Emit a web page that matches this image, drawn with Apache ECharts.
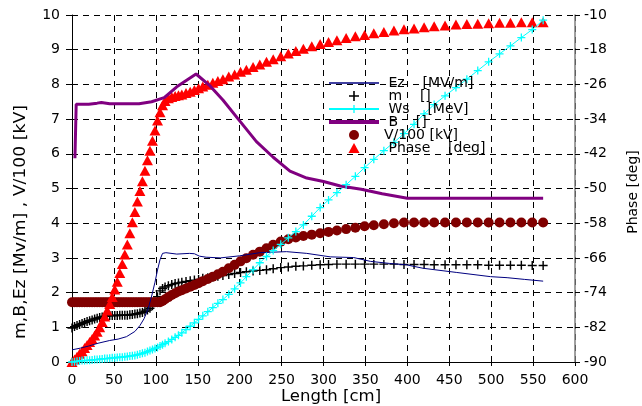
<!DOCTYPE html>
<html>
<head>
<meta charset="utf-8">
<script src="https://cdn.jsdelivr.net/npm/echarts@6/dist/echarts.min.js"></script>
<style>
html,body{margin:0;padding:0;background:#fff;}
#chart{width:642px;height:406px;}
</style>
</head>
<body>
<div id="chart"></div>
<script>
// ---- data ----
const lengthCm = [0,3,6,9,12,15,18,21,24,27,30,33,36,39,42,45,48,51,54,57,60,63,66,69,72,75,78,81,84,87,90,93,96,99,102,105,108,111,
  115,119,123,127,131,136,141,146,151,156,162,168,174,180,187,194,201,208,216,224,232,240,249,258,267,276,286,296,306,316,
  327,338,349,360,372,384,396,408,420,432,445,458,471,484,497,510,523,536,549,562];

const phaseDeg = [-90,-89.4,-88.8,-88.1,-87.5,-86.8,-86.1,-85.4,-84.7,-83.9,-83.0,-82.0,-80.8,-79.5,-78.1,-76.6,-75.0,-73.3,-71.5,-69.5,-67.4,-65.2,-62.9,-60.3,-57.8,-55.4,-53.0,-50.6,-48.3,-45.9,-43.5,-41.3,-39.0,-36.6,-34.3,-32.4,-30.8,-29.8,
  -29.2,-28.9,-28.7,-28.5,-28.3,-28.0,-27.7,-27.3,-26.9,-26.5,-26.1,-25.6,-25.2,-24.8,-24.2,-23.7,-23.1,-22.6,-22.0,-21.4,-20.8,-20.2,-19.5,-18.9,-18.3,-17.8,-17.2,-16.7,-16.2,-15.8,
  -15.3,-14.9,-14.6,-14.2,-13.9,-13.6,-13.3,-13.1,-12.8,-12.6,-12.4,-12.2,-12.1,-12.0,-11.9,-11.8,-11.8,-11.7,-11.7,-11.7];

const vKv100 = [1.72,1.72,1.72,1.72,1.72,1.72,1.72,1.72,1.72,1.72,1.72,1.72,1.72,1.72,1.72,1.72,1.72,1.72,1.72,1.72,1.72,1.72,1.72,1.72,1.72,1.72,1.72,1.72,1.72,1.72,1.72,1.72,1.72,1.72,1.72,1.72,1.76,1.81,
  1.87,1.93,1.98,2.03,2.07,2.12,2.17,2.22,2.27,2.33,2.39,2.46,2.53,2.60,2.70,2.80,2.90,2.99,3.09,3.18,3.28,3.38,3.47,3.54,3.59,3.63,3.67,3.71,3.75,3.79,
  3.83,3.87,3.91,3.94,3.97,4.00,4.02,4.02,4.02,4.02,4.02,4.02,4.02,4.02,4.02,4.02,4.02,4.02,4.02,4.02];

const mValues = [0.98,1.02,1.05,1.08,1.11,1.14,1.17,1.19,1.21,1.24,1.26,1.28,1.30,1.32,1.33,1.34,1.34,1.34,1.34,1.35,1.35,1.35,1.35,1.36,1.37,1.38,1.39,1.41,1.43,1.46,1.50,1.55,1.62,1.72,1.88,2.05,2.12,2.16,
  2.20,2.23,2.26,2.28,2.30,2.32,2.34,2.36,2.38,2.41,2.43,2.45,2.47,2.49,2.52,2.55,2.58,2.60,2.62,2.64,2.66,2.69,2.72,2.74,2.76,2.77,2.79,2.80,2.81,2.82,
  2.82,2.82,2.82,2.82,2.82,2.82,2.81,2.81,2.81,2.80,2.80,2.80,2.80,2.80,2.79,2.79,2.79,2.79,2.78,2.78];

const wsMeV = [0.00,0.01,0.02,0.03,0.04,0.04,0.05,0.05,0.06,0.07,0.07,0.08,0.09,0.10,0.10,0.11,0.12,0.12,0.13,0.14,0.14,0.15,0.16,0.17,0.18,0.19,0.21,0.23,0.25,0.27,0.30,0.33,0.36,0.39,0.42,0.46,0.50,0.54,
  0.59,0.65,0.71,0.77,0.84,0.93,1.03,1.13,1.23,1.33,1.45,1.57,1.69,1.80,1.95,2.11,2.28,2.46,2.66,2.86,3.04,3.21,3.39,3.58,3.76,3.95,4.20,4.45,4.67,4.88,
  5.11,5.35,5.60,5.84,6.09,6.33,6.58,6.85,7.15,7.42,7.67,7.91,8.15,8.40,8.65,8.88,9.11,9.35,9.58,9.85];

const ezLength = [0,10,20,31,45,55,65,75,81,86,91,95,99,102,105,108,112,125,140,146,152,160,177,200,224,256,280,308,336,356,379,399,419,459,499,519,540,562];
const ezValues = [0.35,0.40,0.46,0.54,0.62,0.66,0.73,0.88,1.05,1.25,1.55,1.90,2.30,2.65,2.95,3.13,3.15,3.11,3.13,3.12,3.05,3.02,3.00,3.06,3.15,3.18,3.13,3.03,3.01,2.90,2.84,2.80,2.70,2.58,2.46,2.43,2.38,2.33];

const bLength = [3.5,5,20,30,35,45,80,95,110,125,148,165,180,200,220,240,260,280,300,320,345,370,400,562];
const bValues = [5.87,7.43,7.43,7.46,7.48,7.44,7.44,7.50,7.62,7.93,8.30,7.95,7.55,6.95,6.35,5.90,5.50,5.30,5.20,5.07,4.98,4.85,4.72,4.72];

const seriesNames = [' Ez    [MV/m]', ' m    []', ' Ws    [MeV]', ' B    []', 'V/100 [kV]', ' Phase    [deg]'];
const xAxisName = 'Length [cm]';
const yAxisName = 'm,B,Ez [Mv/m] , V/100 [kV]';
const y2AxisName = 'Phase [deg]';
const phaseMin = -90, phaseMax = -10, phaseStep = 8;

// ---- chart ----
const FONT = '"DejaVu Sans", sans-serif';
const PLUS = 'path://M4.2,0H5.8V4.2H10V5.8H5.8V10H4.2V5.8H0V4.2H4.2Z';
const TRI = 'path://M5,0L10,9L0,9Z';
const pair = (xs, ys) => xs.map((x, i) => [x, ys[i]]);

const chart = echarts.init(document.getElementById('chart'), null, {renderer: 'canvas'});
const dashed = {color: '#000', width: 1, type: [6, 5]};

chart.setOption({
  animation: false,
  backgroundColor: '#fff',
  grid: {left: 72, right: 67, top: 15, bottom: 44, containLabel: false},
  xAxis: {
    type: 'value', min: 0, max: 600, interval: 50,
    axisLine: {show: true, onZero: false, lineStyle: {color: '#000', width: 1}},
    axisTick: {show: true, length: 4, lineStyle: {color: '#000'}},
    axisLabel: {color: '#000', fontFamily: FONT, fontSize: 14, margin: 11},
    splitLine: {show: true, lineStyle: dashed}
  },
  yAxis: [{
    type: 'value', min: 0, max: 10, interval: 1, position: 'left',
    axisLine: {show: true, onZero: false, lineStyle: {color: '#000', width: 1}},
    axisTick: {show: true, length: 6, lineStyle: {color: '#000'}},
    axisLabel: {color: '#000', fontFamily: FONT, fontSize: 14, margin: 12},
    splitLine: {show: true, lineStyle: dashed}
  }, {
    type: 'value', min: 0, max: phaseMax - phaseMin, interval: phaseStep, position: 'right',
    axisLine: {show: true, onZero: false, lineStyle: {color: '#808080', width: 1.5}},
    axisTick: {show: true, length: 5, lineStyle: {color: '#000'}},
    axisLabel: {color: '#000', fontFamily: FONT, fontSize: 14, margin: 9,
      formatter: v => String(v + phaseMin)},
    splitLine: {show: false}
  }],
  legend: {
    orient: 'vertical', left: 327, top: 76, padding: 0,
    itemWidth: 50, itemHeight: 10, itemGap: -1,
    selectedMode: false,
    textStyle: {color: '#000', fontFamily: FONT, fontSize: 14},
    data: [
      {name: seriesNames[0], itemStyle: {opacity: 0}, lineStyle: {width: 1.5}},
      {name: seriesNames[1]},
      {name: seriesNames[2]},
      {name: seriesNames[3], itemStyle: {opacity: 0}, lineStyle: {width: 4}},
      {name: seriesNames[4]},
      {name: seriesNames[5], icon: TRI}
    ]
  },
  graphic: [
    {type: 'text', x: 331, y: 397, scaleX: 1.1,
      style: {text: xAxisName, font: '15px "DejaVu Sans"', fill: '#000', textAlign: 'center', textVerticalAlign: 'middle'}},
    {type: 'text', x: 21, y: 222, rotation: Math.PI / 2, scaleX: 1.15,
      style: {text: yAxisName, font: '15px "DejaVu Sans"', fill: '#000', textAlign: 'center', textVerticalAlign: 'middle'}},
    {type: 'text', x: 633, y: 192, rotation: Math.PI / 2,
      style: {text: y2AxisName, font: '14px "DejaVu Sans"', fill: '#000', textAlign: 'center', textVerticalAlign: 'middle'}}
  ],
  series: [
    {name: seriesNames[0], type: 'line', yAxisIndex: 0, data: pair(ezLength, ezValues),
      symbol: 'none', lineStyle: {color: '#000080', width: 1}, itemStyle: {color: '#000080'}},
    {name: seriesNames[1], type: 'scatter', yAxisIndex: 0, data: pair(lengthCm, mValues),
      symbol: PLUS, symbolSize: 9, itemStyle: {color: '#000', opacity: 1}},
    {name: seriesNames[2], type: 'line', yAxisIndex: 0, data: pair(lengthCm, wsMeV),
      symbol: PLUS, symbolSize: 8, showSymbol: true, showAllSymbol: true,
      lineStyle: {color: '#00ffff', width: 1}, itemStyle: {color: '#00ffff'}},
    {name: seriesNames[3], type: 'line', yAxisIndex: 0, data: pair(bLength, bValues),
      symbol: 'none', lineStyle: {color: '#800080', width: 3}, itemStyle: {color: '#800080'}},
    {name: seriesNames[4], type: 'scatter', yAxisIndex: 0, data: pair(lengthCm, vKv100),
      symbol: 'circle', symbolSize: 10, itemStyle: {color: '#800000', opacity: 1}},
    {name: seriesNames[5], type: 'scatter', yAxisIndex: 1, data: pair(lengthCm, phaseDeg.map(p => p - phaseMin)),
      symbol: TRI, symbolSize: [11, 10], itemStyle: {color: '#ff0000', opacity: 1}}
  ]
});
</script>
</body>
</html>
